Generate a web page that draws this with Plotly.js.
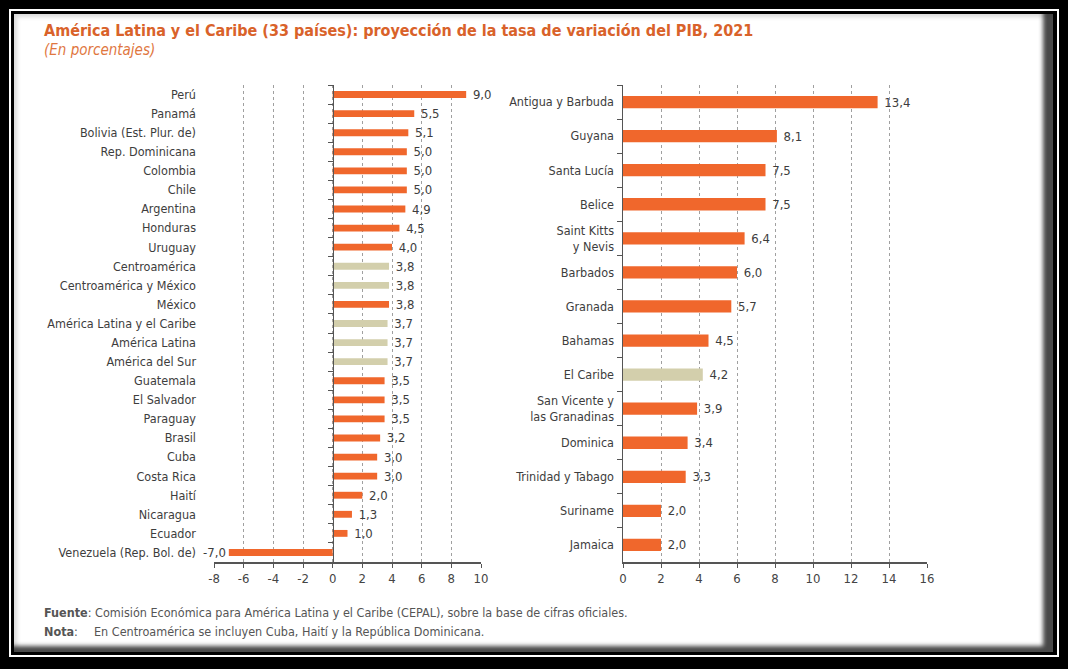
<!DOCTYPE html>
<html>
<head>
<meta charset="utf-8">
<script src="https://cdn.plot.ly/plotly-3.0.1.min.js"></script>
<style>
  html, body { margin:0; padding:0; background:#000; }
  #wrap { position:relative; width:1068px; height:669px; background:#000; overflow:hidden; }
  #line { position:absolute; left:9px; top:9px; width:1050px; height:648px; border:2px solid #fff; box-sizing:border-box; background:#000; }
  #content { position:absolute; left:14px; top:14px; width:1039px; height:638px; background:#fff;
             box-shadow: inset -10px -6px 4px rgba(40,40,40,0.85), inset 3px 3px 4px rgba(0,0,0,0.15); }
  #chart { position:absolute; left:0; top:0; width:1068px; height:669px; }
</style>
</head>
<body>
<div id="wrap">
  <div id="line"></div>
  <div id="content"></div>
  <div id="chart"></div>
</div>
<script>
// ---- data ----
const leftCategories = ['Perú','Panamá','Bolivia (Est. Plur. de)','Rep. Dominicana','Colombia','Chile','Argentina','Honduras','Uruguay','Centroamérica','Centroamérica y México','México','América Latina y el Caribe','América Latina','América del Sur','Guatemala','El Salvador','Paraguay','Brasil','Cuba','Costa Rica','Haití','Nicaragua','Ecuador','Venezuela (Rep. Bol. de)'];
const leftValues = [9.0,5.5,5.1,5.0,5.0,5.0,4.9,4.5,4.0,3.8,3.8,3.8,3.7,3.7,3.7,3.5,3.5,3.5,3.2,3.0,3.0,2.0,1.3,1.0,-7.0];
const leftAggregates = ['Centroamérica','Centroamérica y México','América Latina y el Caribe','América Latina','América del Sur'];

const rightCategories = ['Antigua y Barbuda','Guyana','Santa Lucía','Belice','Saint Kitts<br>y Nevis','Barbados','Granada','Bahamas','El Caribe','San Vicente y<br>las Granadinas','Dominica','Trinidad y Tabago','Suriname','Jamaica'];
const rightValues = [13.4,8.1,7.5,7.5,6.4,6.0,5.7,4.5,4.2,3.9,3.4,3.3,2.0,2.0];
const rightAggregates = ['El Caribe'];

const leftTicks = [-8,-6,-4,-2,0,2,4,6,8,10];
const rightTicks = [0,2,4,6,8,10,12,14,16];

// ---- style ----
const ORANGE = '#F0672C';
const TAN = '#D3CFAC';
const TXT = '#3d3d3d';
const FONT = '"Liberation Sans Narrow", "DejaVu Sans Condensed", "Arial Narrow", sans-serif';
const W = 1068, H = 669;
const fmt = v => (v >= 0 ? ' ' : '') + v.toFixed(1).replace('.', ',');

const xL = [214/W, 481/W];
const xR = [623/W, 927/W];
const yD = [1 - 562/H, 1 - 85/H];
const zeroPos = xL[0] + (0 - (-8)) / (10 - (-8)) * (xL[1] - xL[0]);

const traces = [
  {
    type:'bar', orientation:'h', x:leftValues, y:leftCategories, xaxis:'x', yaxis:'y',
    marker:{color:leftCategories.map(c => leftAggregates.includes(c) ? TAN : ORANGE)},
    width:0.36, text:leftValues.map(fmt), textposition:'outside', cliponaxis:false,
    constraintext:'none', textfont:{family:FONT, size:13, color:TXT}, hoverinfo:'x+y'
  },
  { // invisible trace to carry the zero axis with boundary ticks
    type:'scatter', mode:'markers', x:leftValues.map(() => 0), y:leftCategories, xaxis:'x', yaxis:'y3',
    marker:{opacity:0}, hoverinfo:'skip', showlegend:false
  },
  {
    type:'bar', orientation:'h', x:rightValues, y:rightCategories, xaxis:'x2', yaxis:'y2',
    marker:{color:rightCategories.map(c => rightAggregates.includes(c) ? TAN : ORANGE)},
    width:0.36, text:rightValues.map(fmt), textposition:'outside', cliponaxis:false,
    constraintext:'none', textfont:{family:FONT, size:13, color:TXT}, hoverinfo:'x+y'
  }
];

const gridCommon = {showgrid:true, gridcolor:'#a0a0a0', griddash:'3px,3px', gridwidth:1};
const layout = {
  width:W, height:H, margin:{l:0,r:0,t:0,b:0},
  paper_bgcolor:'rgba(0,0,0,0)', plot_bgcolor:'rgba(0,0,0,0)',
  showlegend:false, bargap:0.6,
  font:{family:FONT, color:TXT, size:13},
  xaxis:Object.assign({}, gridCommon, {
    domain:xL, range:[-8,10], tickvals:leftTicks, ticktext:leftTicks.map(String),
    zeroline:false, showline:true, linecolor:'#555', linewidth:1.5,
    ticks:'outside', ticklen:4, tickcolor:'#555', anchor:'y',
    tickfont:{family:FONT, size:13, color:'#444'}
  }),
  yaxis:{
    domain:yD, type:'category', categoryorder:'array', categoryarray:leftCategories,
    range:[leftCategories.length - 0.5, -0.5], showgrid:false, zeroline:false, showline:false,
    ticks:'', ticklabelstandoff:17, anchor:'x', tickfont:{family:FONT, size:12.5, color:TXT}
  },
  yaxis3:{
    overlaying:'y', anchor:'free', position:zeroPos, type:'category',
    categoryorder:'array', categoryarray:leftCategories,
    range:[leftCategories.length - 0.5, -0.5], showgrid:false, zeroline:false,
    showline:true, linecolor:'#555', linewidth:1.5, ticks:'outside', tickson:'boundaries',
    ticklen:5, tickcolor:'#555', showticklabels:false
  },
  xaxis2:Object.assign({}, gridCommon, {
    domain:xR, range:[0,16], tickvals:rightTicks, ticktext:rightTicks.map(String),
    zeroline:false, showline:true, linecolor:'#555', linewidth:1.5,
    ticks:'outside', ticklen:4, tickcolor:'#555', anchor:'y2',
    tickfont:{family:FONT, size:13, color:'#444'}
  }),
  yaxis2:{
    domain:yD, type:'category', categoryorder:'array', categoryarray:rightCategories,
    range:[rightCategories.length - 0.5, -0.5], showgrid:false, zeroline:false,
    showline:true, linecolor:'#555', linewidth:1.5, ticks:'outside', tickson:'boundaries',
    ticklen:5, tickcolor:'#555', anchor:'x2', ticklabelstandoff:5,
    tickfont:{family:FONT, size:12.5, color:TXT}
  },
  annotations:[
    {xref:'paper', yref:'paper', x:42/W, y:1-31/H, xanchor:'left', yanchor:'middle', showarrow:false,
     text:'<b>América Latina y el Caribe (33 países): proyección de la tasa de variación del PIB, 2021</b>',
     font:{family:FONT, size:16, color:'#D9622A'}},
    {xref:'paper', yref:'paper', x:42/W, y:1-50/H, xanchor:'left', yanchor:'middle', showarrow:false,
     text:'<i>(En porcentajes)</i>', font:{family:FONT, size:15, color:'#E0773F'}},
    {xref:'paper', yref:'paper', x:42/W, y:1-612/H, xanchor:'left', yanchor:'middle', showarrow:false,
     text:'<b>Fuente</b>: Comisión Económica para América Latina y el Caribe (CEPAL), sobre la base de cifras oficiales.',
     font:{family:FONT, size:12.5, color:'#555'}},
    {xref:'paper', yref:'paper', x:42/W, y:1-631/H, xanchor:'left', yanchor:'middle', showarrow:false,
     text:'<b>Nota</b>:', font:{family:FONT, size:12.5, color:'#555'}},
    {xref:'paper', yref:'paper', x:92/W, y:1-631/H, xanchor:'left', yanchor:'middle', showarrow:false,
     text:'En Centroamérica se incluyen Cuba, Haití y la República Dominicana.', font:{family:FONT, size:12.5, color:'#555'}}
  ]
};

Plotly.newPlot('chart', traces, layout, {staticPlot:true, displayModeBar:false});
</script>
</body>
</html>
